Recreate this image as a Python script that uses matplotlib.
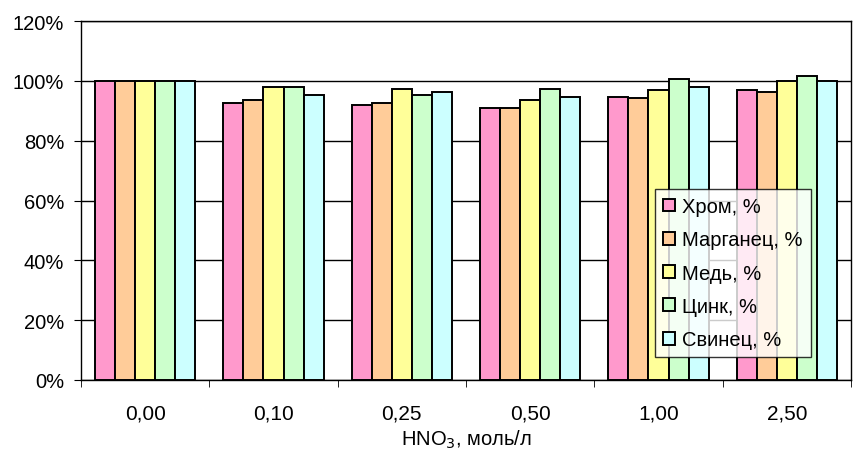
import numpy as np
import matplotlib.pyplot as plt
from matplotlib.ticker import FixedLocator, FuncFormatter

plt.rcParams['font.family'] = ['Liberation Sans', 'DejaVu Sans']

conc = ['0,00', '0,10', '0,25', '0,50', '1,00', '2,50']
names = ['Хром, %', 'Марганец, %', 'Медь, %', 'Цинк, %', 'Свинец, %']
chrom = [100, 92.7, 92.0, 90.9, 94.7, 96.8]
mangan = [100, 93.7, 92.7, 90.9, 94.2, 96.4]
copper = [100, 97.8, 97.4, 93.7, 96.8, 99.9]
zinc = [100, 97.8, 95.3, 97.4, 100.6, 101.7]
lead = [100, 95.4, 96.4, 94.7, 97.8, 99.9]
colors = ['#ff99cc', '#ffcc99', '#ffff99', '#ccffcc', '#ccffff']

series = [chrom, mangan, copper, zinc, lead]

fig = plt.figure(figsize=(8.57, 4.52), dpi=100)
ax = fig.add_axes([81 / 857, 71 / 452, 770 / 857, 359 / 452])

x = np.arange(len(conc))
w = 1 / 6.4
for i, vals in enumerate(series):
    ax.bar(x + (i - 2) * w, vals, w, color=colors[i], edgecolor='black',
           linewidth=1.4, label=names[i], zorder=3)

ax.set_xlim(-0.5, len(conc) - 0.5)
ax.set_ylim(0, 120)
ax.set_yticks(np.arange(0, 121, 20))
ax.yaxis.set_major_formatter(FuncFormatter(lambda v, p: f'{v:.0f}%'))
ax.yaxis.grid(True, color='black', linewidth=1, zorder=0)

ax.set_xticks(x)
ax.set_xticklabels(conc)
ax.xaxis.set_minor_locator(FixedLocator(np.arange(-0.5, len(conc), 1)))
ax.tick_params(axis='x', which='major', length=0, pad=17, labelsize=15)
ax.tick_params(axis='x', which='minor', length=5, direction='out')
ax.tick_params(axis='y', length=5, direction='out', labelsize=14.5, pad=7)
for s in ax.spines.values():
    s.set_linewidth(1)
    s.set_color('black')

ax.set_xlabel('HNO$_3$, моль/л', fontsize=14.5, labelpad=4)

leg = ax.legend(loc='upper left', bbox_to_anchor=(574 / 770, 191 / 359),
                fontsize=14.5, frameon=True, fancybox=False, handlelength=0.6,
                handleheight=0.6, handletextpad=0.35, labelspacing=0.71,
                borderpad=0.4, borderaxespad=0)
leg.get_frame().set_edgecolor('black')
leg.get_frame().set_linewidth(1)
leg.set_zorder(5)

fig.savefig('out.png', dpi=100)
